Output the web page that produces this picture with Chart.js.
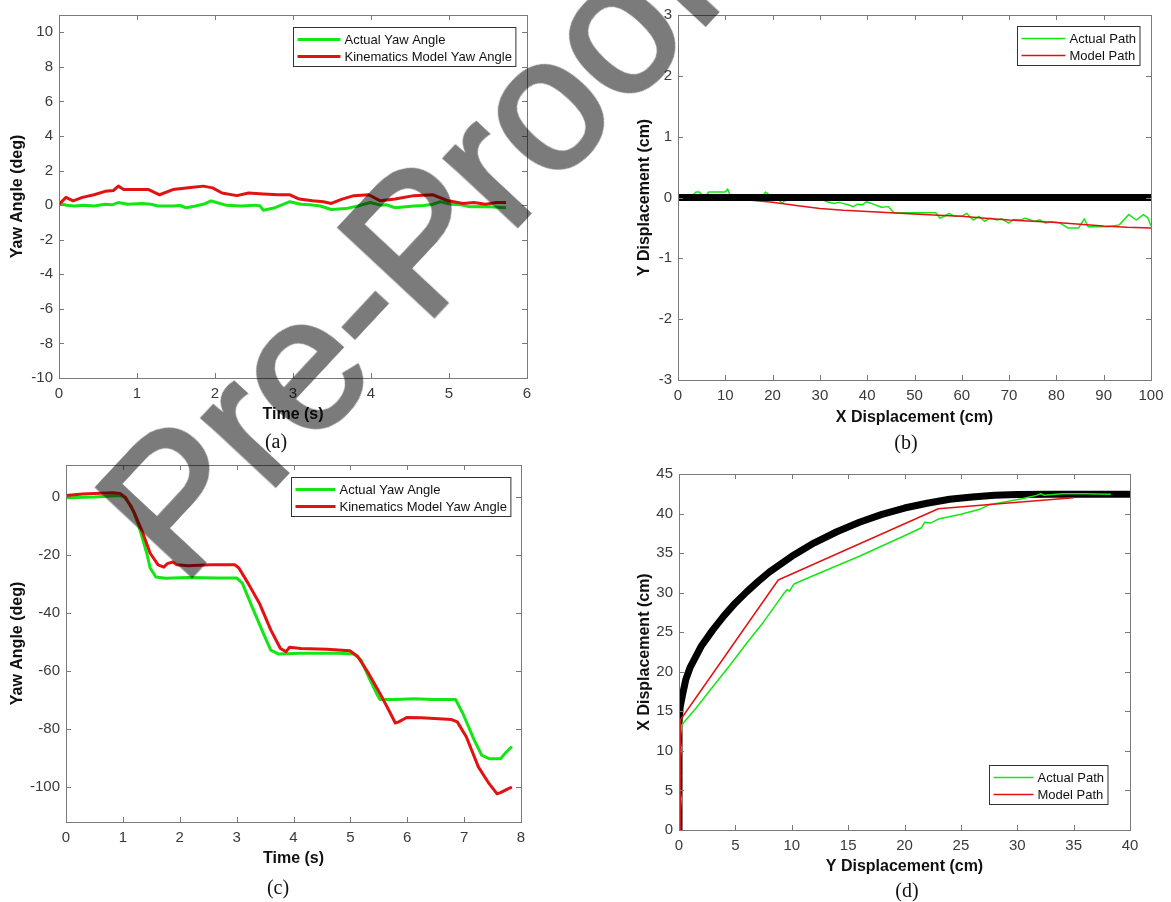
<!DOCTYPE html>
<html>
<head>
<meta charset="utf-8">
<script src="https://cdn.jsdelivr.net/npm/chart.js@4"></script>
<style>
  body { margin: 0; background: #fff; }
  #page { position: relative; width: 1171px; height: 902px; overflow: hidden; background: #fff; }
  canvas { position: absolute; }
  .cap { position: absolute; font: 20px "Liberation Serif", "Times New Roman", serif; color: #111; transform: translate(-50%, -50%); }
  #wm { position: absolute; left: 408px; top: 248px; font: 188px "Liberation Sans", Arial, sans-serif;
        color: #7b7b7b; -webkit-text-stroke: 4px #7b7b7b; mix-blend-mode: multiply;
        line-height: 1; white-space: nowrap;
        transform: translate(-50%, -50%) rotate(-47deg); pointer-events: none; }
</style>
</head>
<body>
<div id="page">
  <canvas id="chartA" width="560" height="430" style="left:0;top:0"></canvas>
  <canvas id="chartB" width="581" height="430" style="left:590px;top:0"></canvas>
  <canvas id="chartC" width="560" height="440" style="left:0;top:440px"></canvas>
  <canvas id="chartD" width="581" height="440" style="left:590px;top:440px"></canvas>
  <div class="cap" style="left:276px;top:441px">(a)</div>
  <div class="cap" style="left:906px;top:442px">(b)</div>
  <div class="cap" style="left:278px;top:887px">(c)</div>
  <div class="cap" style="left:907px;top:890px">(d)</div>
  <div id="wm">Pre-Proof</div>
</div>
<script>
// (a) yaw angle, straight run
const aActualT = [0,0.09,0.2,0.32,0.45,0.59,0.68,0.76,0.88,1.07,1.18,1.27,1.46,1.55,1.63,1.75,1.85,1.95,2.02,2.14,2.33,2.52,2.58,2.62,2.77,2.96,3.1,3.22,3.35,3.49,3.68,3.83,3.99,4.12,4.2,4.31,4.55,4.68,4.79,4.89,5.03,5.15,5.27,5.4,5.52,5.73];
const aActualYaw = [0.15,0,-0.05,0,-0.05,0.05,0.02,0.15,0.05,0.1,0.05,-0.05,-0.05,-0.02,-0.15,-0.05,0.05,0.25,0.15,0,-0.05,0,-0.05,-0.3,-0.15,0.2,0.05,0.02,-0.05,-0.25,-0.2,-0.05,0.15,0,0.02,-0.15,-0.05,-0.02,0.05,0.2,0.05,0.02,-0.1,-0.08,-0.1,-0.15];
const aModelT = [0,0.09,0.18,0.3,0.45,0.59,0.7,0.76,0.83,0.98,1.15,1.29,1.46,1.66,1.85,1.97,2.09,2.28,2.43,2.62,2.81,2.96,3.08,3.25,3.39,3.49,3.63,3.78,3.97,4.12,4.31,4.55,4.79,4.99,5.18,5.32,5.47,5.61,5.73];
const aModelYaw = [0.05,0.45,0.25,0.45,0.6,0.8,0.85,1.1,0.9,0.9,0.9,0.6,0.9,1.0,1.1,1.0,0.7,0.55,0.7,0.65,0.6,0.6,0.35,0.25,0.2,0.1,0.35,0.55,0.6,0.25,0.35,0.55,0.6,0.25,0.1,0.15,0.05,0.15,0.15];

// (b) straight path
const bActualX = [0,3,3.8,4.5,5,6,6.5,8,10,10.5,11,13,16,18,18.5,19.5,21,22,23,26,30,31.5,33,34,36,37,38,39,39.8,41,43,44.5,45.6,49.5,54.5,55.4,56.5,57.3,58.5,60,61,62.4,63.6,64.8,66,67.5,68.5,69.9,71,72.5,73.4,75.3,76.5,77.7,79,80.8,82.4,84.7,85.9,86.7,91,93.3,95.3,96.9,98.4,99.3,100];
const bActualY = [0.03,0.03,0.09,0.09,0.05,0.04,0.09,0.09,0.09,0.14,0.04,0.02,0.01,0.02,0.09,0.03,-0.02,-0.09,-0.03,0,-0.01,-0.07,-0.1,-0.08,-0.12,-0.15,-0.11,-0.12,-0.07,-0.1,-0.16,-0.15,-0.25,-0.25,-0.25,-0.34,-0.3,-0.26,-0.31,-0.31,-0.26,-0.37,-0.31,-0.39,-0.34,-0.37,-0.35,-0.42,-0.36,-0.37,-0.34,-0.39,-0.37,-0.42,-0.4,-0.42,-0.5,-0.5,-0.35,-0.48,-0.48,-0.45,-0.28,-0.37,-0.28,-0.33,-0.47];
const bModelX = [0,10,15,20,25,30,35,40,45,50,55,60,65,70,75,80,85,90,95,100];
const bModelY = [0,-0.01,-0.04,-0.08,-0.13,-0.18,-0.21,-0.23,-0.25,-0.27,-0.29,-0.31,-0.34,-0.37,-0.39,-0.41,-0.44,-0.47,-0.49,-0.5];
const bRefX = [0,100];
const bRefY = [0,0];

// (c) yaw angle, turning run
const cActualT = [0,0.5,0.95,1.02,1.15,1.28,1.42,1.48,1.58,1.75,2.15,2.68,3.0,3.1,3.27,3.47,3.6,3.73,4.13,4.79,5.06,5.19,5.32,5.46,5.52,5.8,6.12,6.45,6.85,6.98,7.18,7.31,7.44,7.64,7.74,7.84];
const cActualYaw = [-0.3,0,0.5,0,-3.2,-10,-19.4,-24.5,-27.6,-28,-27.8,-27.9,-27.9,-29.7,-37.8,-47,-52.8,-54.1,-53.9,-53.9,-54.1,-56.2,-62,-67.7,-69.8,-69.8,-69.5,-69.8,-69.8,-74.7,-83.9,-89,-90.2,-90.2,-87.9,-86];
const cModelT = [0,0.29,0.82,0.95,1.05,1.19,1.35,1.48,1.62,1.72,1.78,1.88,1.95,2.15,2.54,2.97,3.04,3.2,3.4,3.6,3.77,3.87,3.93,4.13,4.59,4.99,5.13,5.32,5.52,5.69,5.79,5.85,5.99,6.25,6.78,6.88,7.04,7.25,7.44,7.58,7.64,7.77,7.84];
const cModelYaw = [0.5,1,1.4,1.2,-0.3,-5,-12.4,-19.4,-23.4,-24.2,-23,-22.4,-23.4,-23.7,-23.4,-23.4,-24.5,-29.7,-36.6,-45.8,-52.2,-53.3,-51.8,-52.2,-52.5,-53,-55,-60.8,-67.7,-74,-77.9,-77.5,-76,-76.1,-76.7,-77.5,-82.7,-93,-98.8,-102.3,-101.9,-100.6,-100];

// (d) curved path
const dActualX = [0.15,0.1,0.2,0.05,0.15,0.1,0.2,0.1,0.25,1.5,3,4.5,6,7.5,8.8,9.3,9.6,9.8,10.2,12,14,16,18,20,21.5,21.8,22.3,23,25,26.6,27.5,29,30.5,31.7,32.1,32.4,34,36,38.3];
const dActualY = [0,2,4,5.2,7,8.7,10.3,11.5,13.3,15.4,18.1,20.8,23.6,26.3,28.9,29.9,30.4,30.2,31.1,32.2,33.4,34.6,35.9,37.2,38.2,38.9,38.8,39.3,39.9,40.5,41.1,41.5,41.9,42.3,42.5,42.3,42.5,42.5,42.45];
const dModelX = [0.1,0.15,0.1,0.1,8.8,23,27.3,35];
const dModelY = [0,2,3.8,13.9,31.6,40.6,41.1,42.0];
const dRefX = [0,0,0.1,0.3,0.6,1,2,3,4,5,6,7,8,10,12,14,16,18,20,22,24,26,28,30,33,40];
const dRefY = [0,13.5,15.5,17,19,20.6,23.3,25.3,27.1,28.7,30.1,31.4,32.6,34.6,36.3,37.7,38.9,39.9,40.7,41.3,41.8,42.1,42.3,42.4,42.45,42.45];

const GREEN = '#14e614';
const RED = '#e31212';
const TICK = '#3a3a3a';
const FRAME = '#7a7a7a';
Chart.defaults.font.family = '"Liberation Sans", Arial, sans-serif';

function pts(xs, ys) {
    return xs.map((x, i) => ({ x: x, y: ys[i] }));
}

function series(label, xs, ys, color, width, order) {
    return {
        label: label,
        data: pts(xs, ys),
        borderColor: color,
        backgroundColor: color,
        borderWidth: width,
        pointRadius: 0,
        tension: 0,
        fill: false,
        borderJoinStyle: 'round',
        order: order
    };
}

// box round the plot, inner ticks on all four sides and a legend inside the axes
const matlabFrame = {
    id: 'matlabFrame',
    afterDatasetsDraw(chart, args, opts) {
        const { ctx, chartArea: a, scales } = chart;
        ctx.save();
        ctx.strokeStyle = FRAME;
        ctx.lineWidth = 1;
        ctx.beginPath();
        scales.x.ticks.forEach(t => {
            const px = Math.round(scales.x.getPixelForValue(t.value)) + 0.5;
            ctx.moveTo(px, a.bottom); ctx.lineTo(px, a.bottom - 5);
            ctx.moveTo(px, a.top); ctx.lineTo(px, a.top + 5);
        });
        scales.y.ticks.forEach(t => {
            const py = Math.round(scales.y.getPixelForValue(t.value)) + 0.5;
            ctx.moveTo(a.left, py); ctx.lineTo(a.left + 5, py);
            ctx.moveTo(a.right, py); ctx.lineTo(a.right - 5, py);
        });
        ctx.stroke();
        ctx.strokeRect(Math.round(a.left) + 0.5, Math.round(a.top) + 0.5,
                       Math.round(a.right - a.left), Math.round(a.bottom - a.top));

        // legend
        const items = chart.data.datasets.filter(d => d.label);
        ctx.font = '13px "Liberation Sans", Arial, sans-serif';
        const textW = Math.max(...items.map(d => ctx.measureText(d.label).width));
        const w = 4 + opts.lineLen + 4 + textW + 4;
        const h = items.length * 17 + 5;
        const x = Math.round(a.right - opts.dx - w) + 0.5;
        const y = Math.round(opts.corner === 'se' ? a.bottom - opts.dy - h : a.top + opts.dy) + 0.5;
        ctx.fillStyle = '#fff';
        ctx.fillRect(x, y, w, h);
        ctx.strokeStyle = '#333';
        ctx.strokeRect(x, y, w, h);
        items.forEach((d, i) => {
            const cy = y + 12 + i * 17;
            ctx.strokeStyle = d.borderColor;
            ctx.lineWidth = d.borderWidth;
            ctx.beginPath();
            ctx.moveTo(x + 4, cy);
            ctx.lineTo(x + 4 + opts.lineLen, cy);
            ctx.stroke();
            ctx.fillStyle = '#111';
            ctx.textBaseline = 'middle';
            ctx.fillText(d.label, x + 4 + opts.lineLen + 4, cy + 0.5);
        });
        ctx.restore();
    }
};

function axis(min, max, step, title, size, titlePad, isX) {
    return {
        type: 'linear',
        min: min,
        max: max,
        ticks: {
            stepSize: step,
            includeBounds: false,
            autoSkip: false,
            maxRotation: 0,
            padding: isX ? 7 : 6,
            color: TICK,
            font: { size: 15 }
        },
        grid: { display: false, drawTicks: false },
        border: { display: false },
        title: {
            display: true,
            text: title,
            color: '#111',
            font: { size: 16, weight: 'bold' },
            padding: isX ? { top: 0, bottom: titlePad } : { top: titlePad, bottom: 0 }
        },
        afterFit: s => {
            if (isX) s.height = size; else s.width = size;
        }
    };
}

function makeChart(id, datasets, xAxis, yAxis, padding, legend) {
    return new Chart(document.getElementById(id), {
        type: 'line',
        data: { datasets: datasets },
        options: {
            responsive: false,
            animation: false,
            events: [],
            layout: { padding: padding },
            scales: { x: xAxis, y: yAxis },
            plugins: {
                legend: { display: false },
                tooltip: { enabled: false },
                matlabFrame: legend
            }
        },
        plugins: [matlabFrame]
    });
}

makeChart('chartA', [
        series('Actual Yaw Angle', aActualT, aActualYaw, GREEN, 3, 1),
        series('Kinematics Model Yaw Angle', aModelT, aModelYaw, RED, 3, 0)
    ],
    axis(0, 6, 1, 'Time (s)', 52, 6, true),
    axis(-10, 11, 2, 'Yaw Angle (deg)', 59, 8, false),
    { left: 0, top: 8, right: 33, bottom: 0 },
    { corner: 'ne', dx: 12, dy: 12, lineLen: 43 });

makeChart('chartB', [
        series('Actual Path', bActualX, bActualY, GREEN, 1.5, 2),
        series('Model Path', bModelX, bModelY, RED, 1.5, 1),
        series('', bRefX, bRefY, '#000', 7, 0)
    ],
    axis(0, 100, 10, 'X Displacement (cm)', 50, 3, true),
    axis(-3, 3, 1, 'Y Displacement (cm)', 88, 45, false),
    { left: 0, top: 8, right: 20, bottom: 0 },
    { corner: 'ne', dx: 12, dy: 11, lineLen: 44 });

makeChart('chartC', [
        series('Actual Yaw Angle', cActualT, cActualYaw, GREEN, 3, 1),
        series('Kinematics Model Yaw Angle', cModelT, cModelYaw, RED, 3, 0)
    ],
    axis(0, 8, 1, 'Time (s)', 58, 12, true),
    axis(-112, 11, 20, 'Yaw Angle (deg)', 66, 8, false),
    { left: 0, top: 25, right: 39, bottom: 0 },
    { corner: 'ne', dx: 11, dy: 12, lineLen: 40 });

makeChart('chartD', [
        series('Actual Path', dActualX, dActualY, GREEN, 1.5, 1),
        series('Model Path', dModelX, dModelY, RED, 1.5, 0),
        series('', dRefX, dRefY, '#000', 7, 2)
    ],
    axis(0, 40, 5, 'Y Displacement (cm)', 50, 4, true),
    axis(0, 45, 5, 'X Displacement (cm)', 89, 45, false),
    { left: 0, top: 34, right: 41, bottom: 0 },
    { corner: 'se', dx: 23, dy: 26, lineLen: 40 });
</script>
</body>
</html>
